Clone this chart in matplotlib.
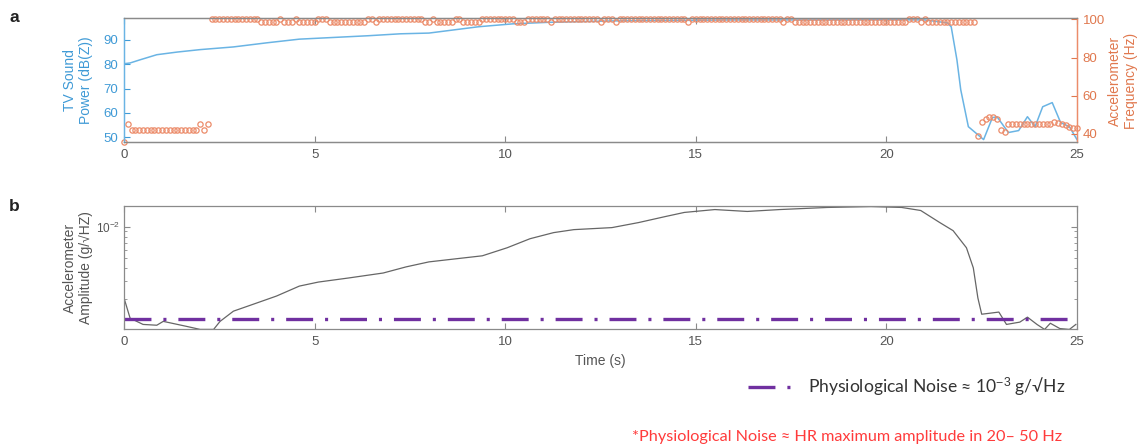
import numpy as np
import matplotlib
matplotlib.use("Agg")
import matplotlib.pyplot as plt
from matplotlib.lines import Line2D
from matplotlib.ticker import LogLocator, NullFormatter, LogFormatterSciNotation

# ---------------- data ----------------
# Panel a: TV sound power (dB(Z))
SOUND_T = [0, 0.16, 0.42, 0.86, 1.4, 2.0, 2.87, 3.75, 4.6, 5.5,
           6.4, 7.25, 8.0, 9.3, 10.2, 11.1, 12.8, 14.5, 16, 18,
           20, 21.0, 21.6, 21.7, 21.85, 21.95, 22.15, 22.55, 22.78, 22.9,
           23.2, 23.47, 23.7, 23.9, 24.1, 24.35, 24.57, 24.8, 25.0]
SOUND_DB = [80.2, 80.5, 81.8, 83.9, 85, 86, 87.1, 88.8, 90.3, 91,
            91.7, 92.5, 92.8, 95.4, 96.6, 97.2, 97.8, 98.0, 98.2, 98.2,
            98.3, 98.2, 97, 95.4, 81.8, 69.5, 54.3, 49, 58, 58.4,
            51.9, 52.7, 58.4, 54.3, 62.5, 64.2, 56, 54.3, 49]

# Panel a: accelerometer dominant frequency (Hz), one sample every 0.1 s, run-length (value, count)
FREQ_STEP_S = 0.1
FREQ_RUNS = [(36, 1), (45.2, 1), (42, 18), (45.2, 1), (42, 1), (45.2, 1),
             (100, 13), (98.6, 5), (100, 1), (98.6, 3), (100, 1), (98.6, 5), (100, 3), (98.6, 10),
             (100, 2), (98.6, 1), (100, 12), (98.6, 2), (100, 1), (98.6, 5), (100, 2), (98.6, 5),
             (100, 9), (98.6, 3), (100, 6), (98.6, 1), (100, 12), (98.6, 1), (100, 3), (98.6, 1),
             (100, 18), (98.6, 1), (100, 24), (98.6, 1), (100, 2), (98.6, 30), (100, 3), (98.6, 1),
             (100, 1), (98.6, 13),
             (39, 1), (46.4, 1), (47.6, 1), (49, 1), (49, 1), (47.6, 1), (42, 1), (41.2, 1),
             (45.2, 12), (46.4, 1), (45.5, 1), (45, 1), (44.7, 1), (43.8, 1), (43.3, 1), (43.3, 1)]

# Panel b: accelerometer amplitude (g/sqrt(Hz))
AMP_T = [0, 0.16, 0.5, 0.86, 1.03, 1.65, 2.0, 2.35, 2.52, 2.87,
         3.4, 4.0, 4.6, 5.1, 5.9, 6.8, 7.4, 8.0, 8.7, 9.4,
         10.05, 10.65, 11.27, 11.8, 12.8, 13.5, 14.2, 14.7, 15.5, 16.35,
         17.2, 18.45, 19.6, 20.4, 20.9, 21.4, 21.75, 22.1, 22.28, 22.4,
         22.5, 22.7, 22.95, 23.15, 23.5, 23.7, 23.95, 24.15, 24.3, 24.55,
         24.8, 24.97]
AMP = [2.05e-3, 1.31e-3, 1.14e-3, 1.12e-3, 1.22e-3, 1.09e-3, 1.02e-3, 1.02e-3, 1.22e-3, 1.53e-3,
       1.79e-3, 2.14e-3, 2.67e-3, 2.92e-3, 3.20e-3, 3.57e-3, 4.09e-3, 4.57e-3, 4.89e-3, 5.23e-3,
       6.25e-3, 7.64e-3, 8.75e-3, 9.35e-3, 9.78e-3, 1.094e-2, 1.25e-2, 1.37e-2, 1.46e-2, 1.40e-2,
       1.46e-2, 1.53e-2, 1.56e-2, 1.53e-2, 1.43e-2, 1.094e-2, 9.14e-3, 6.25e-3, 4.0e-3, 2.05e-3,
       1.43e-3, 1.46e-3, 1.50e-3, 1.14e-3, 1.20e-3, 1.34e-3, 1.14e-3, 1.02e-3, 1.17e-3, 1.04e-3,
       1.02e-3, 1.14e-3]
NOISE_LEVEL = 1.28e-3

X_TICKS = [0, 5, 10, 15, 20, 25]
SOUND_TICKS = [50, 60, 70, 80, 90]
FREQ_TICKS = [40, 60, 80, 100]

# ---------------- style ----------------
BLUE_TXT = '#3f9ad6'
BLUE_LINE = '#6ab4e4'
ORANGE_TXT = '#e0784e'
ORANGE_MK = '#ec8c6a'
GRAY_TXT = '#555555'
GRAY_AX = '#8a8a8a'
GRAY_LINE = '#666666'
PURPLE = '#7030A0'
RED = '#ff3b3b'

plt.rcParams['font.family'] = ['Liberation Sans', 'DejaVu Sans']
plt.rcParams['mathtext.fontset'] = 'custom'
plt.rcParams['mathtext.rm'] = 'Liberation Sans'
plt.rcParams['mathtext.it'] = 'Liberation Sans'
plt.rcParams['lines.scale_dashes'] = False

W, H = 1140, 447
fig = plt.figure(figsize=(W / 100, H / 100), dpi=100)


def px_box(left, top, right, bottom):
    return [left / W, 1 - bottom / H, (right - left) / W, (bottom - top) / H]


TICK_FS = 9.5
LABEL_FS = 10

# ---------------- panel a ----------------
ax1 = fig.add_axes(px_box(124, 18, 1077, 142))
ax2 = ax1.twinx()

ax1.plot(SOUND_T, SOUND_DB, color=BLUE_LINE, lw=1.1, zorder=2)
ax1.set_xlim(0, 25)
ax1.set_ylim(48, 99)
ax1.set_xticks(X_TICKS)
ax1.set_yticks(SOUND_TICKS)
ax1.tick_params(axis='x', direction='in', top=True, bottom=True, length=4,
                color=GRAY_AX, labelcolor=GRAY_TXT, labelsize=TICK_FS, pad=5)
ax1.tick_params(axis='y', direction='in', left=True, length=4, color=BLUE_TXT,
                labelcolor=BLUE_TXT, labelsize=TICK_FS, pad=4)

freq_vals = np.repeat([v for v, n in FREQ_RUNS], [n for v, n in FREQ_RUNS])
freq_t = np.arange(len(freq_vals)) * FREQ_STEP_S
ax2.plot(freq_t, freq_vals, ls='none', marker='o', ms=3.8, mfc='none',
         mec=ORANGE_MK, mew=0.9, clip_on=False)
ax2.set_ylim(35.8, 100.7)
ax2.set_yticks(FREQ_TICKS)
ax2.tick_params(axis='y', direction='in', right=True, length=4, color=ORANGE_TXT,
                labelcolor=ORANGE_TXT, labelsize=TICK_FS, pad=4)

for ax in (ax1, ax2):
    ax.spines['top'].set_color(GRAY_AX)
    ax.spines['bottom'].set_color(GRAY_AX)
    ax.spines['left'].set_color(BLUE_LINE)
    ax.spines['right'].set_color(ORANGE_MK)
    for s in ax.spines.values():
        s.set_linewidth(0.9)

fig.text(78 / W, 1 - 80 / H, 'TV Sound\nPower (dB(Z))', rotation=90, ha='center', va='center',
         multialignment='center', color=BLUE_TXT, fontsize=LABEL_FS, linespacing=1.15)
fig.text(1123 / W, 1 - 81 / H, 'Accelerometer\nFrequency (Hz)', rotation=90, ha='center',
         va='center', multialignment='center', color=ORANGE_TXT, fontsize=LABEL_FS, linespacing=1.15)

# ---------------- panel b ----------------
ax3 = fig.add_axes(px_box(124, 206, 1077, 329))
ax3.plot(AMP_T, AMP, color=GRAY_LINE, lw=0.9)
ax3.plot([0, 25], [NOISE_LEVEL, NOISE_LEVEL], color=PURPLE, lw=2.4,
         dashes=(19.4, 8.6, 2.2, 8.6), solid_capstyle='butt', dash_capstyle='butt')
ax3.set_yscale('log')
ax3.set_xlim(0, 25)
ax3.set_ylim(1.03e-3, 1.58e-2)
ax3.set_xticks(X_TICKS)
ax3.yaxis.set_major_locator(LogLocator(base=10))
ax3.yaxis.set_major_formatter(LogFormatterSciNotation())
ax3.yaxis.set_minor_locator(LogLocator(base=10, subs=np.arange(2, 10)))
ax3.yaxis.set_minor_formatter(NullFormatter())
ax3.tick_params(axis='both', which='major', direction='in', top=True, bottom=True,
                left=True, right=True, length=4, color=GRAY_AX, labelcolor=GRAY_TXT,
                labelsize=TICK_FS, pad=5)
ax3.tick_params(axis='y', which='major', labelsize=8.5, pad=3)
ax3.tick_params(axis='y', which='minor', direction='in', left=True, right=True, length=2.5,
                color=GRAY_AX)
for s in ax3.spines.values():
    s.set_color(GRAY_AX)
    s.set_linewidth(0.9)
ax3.set_xlabel('Time (s)', color=GRAY_TXT, fontsize=LABEL_FS, labelpad=4)

fig.text(78 / W, 1 - 268 / H, 'Accelerometer\nAmplitude (g/\u221aHZ)', rotation=90, ha='center',
         va='center', multialignment='center', color=GRAY_TXT, fontsize=LABEL_FS, linespacing=1.15)

# panel letters
fig.text(9 / W, 1 - 17 / H, 'a', fontsize=12.5, fontweight='bold', ha='left', va='center', color='#222222')
fig.text(9 / W, 1 - 206 / H, 'b', fontsize=12.5, fontweight='bold', ha='left', va='center', color='#222222')

# legend-like annotation
y_leg = 1 - 387 / H
fig.add_artist(Line2D([748 / W, 791 / W], [y_leg, y_leg], transform=fig.transFigure,
                      color=PURPLE, lw=2.4, dashes=(19.4, 8.6, 2.2, 8.6),
                      dash_capstyle='butt'))
fig.text(808 / W, y_leg, 'Physiological Noise \u2248 10$^{-3}$ g/\u221aHz',
         family=['Lato', 'DejaVu Sans'], fontsize=12.6, color='#333333', ha='left', va='center')
fig.text(632 / W, 1 - 437 / H, '*Physiological Noise \u2248 HR maximum amplitude in 20\u2013 50 Hz',
         family=['Lato', 'DejaVu Sans'], fontsize=11.7, color=RED, ha='left', va='center')

fig.savefig('out.png', dpi=100)
